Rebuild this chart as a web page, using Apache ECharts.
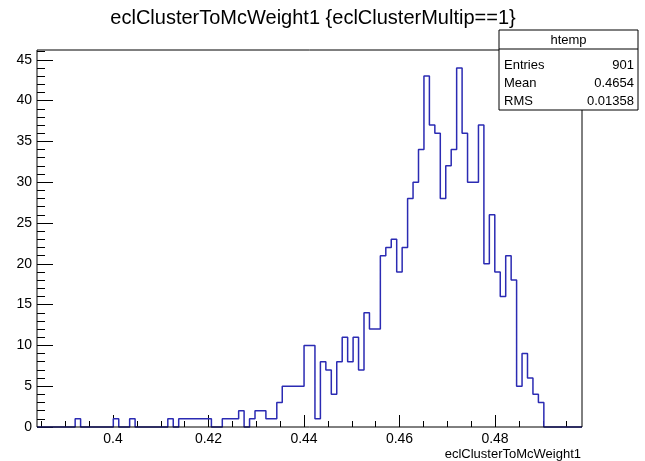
<!DOCTYPE html>
<html>
<head>
<meta charset="utf-8">
<script src="https://cdn.jsdelivr.net/npm/echarts@6/dist/echarts.min.js"></script>
<style>
  html, body { margin: 0; padding: 0; background: #ffffff; }
  #chart { width: 645px; height: 461px; }
</style>
</head>
<body>
<div id="chart"></div>
<script>
// Histogram binning of eclClusterToMcWeight1 (100 equal bins)
const binLow = 0.38408;
const binHigh = 0.49822;
const nBins = 100;

// Entries per bin, lowest bin first
const counts = [
  0, 0, 0, 0, 0, 0, 0, 1, 0, 0,
  0, 0, 0, 0, 1, 0, 0, 1, 0, 0,
  0, 0, 0, 0, 1, 0, 1, 1, 1, 1,
  1, 1, 0, 0, 1, 1, 1, 2, 0, 1,
  2, 2, 1, 1, 3, 5, 5, 5, 5, 10,
  10, 1, 8, 7, 4, 8, 11, 8, 11, 7,
  14, 12, 12, 21, 22, 23, 19, 22, 28, 30,
  34, 43, 37, 36, 28, 32, 34, 44, 36, 30,
  30, 37, 20, 26, 19, 16, 21, 18, 5, 9,
  6, 4, 3, 0, 0, 0, 0, 0, 0, 0
];

// Axis ticks
const xMajorTicks = [0.4, 0.42, 0.44, 0.46, 0.48];
const xMinorTicks = [0.385, 0.39, 0.395, 0.405, 0.41, 0.415, 0.425, 0.43, 0.435,
                     0.445, 0.45, 0.455, 0.465, 0.47, 0.475, 0.485, 0.49, 0.495];
const yMax = 46.2;
const yMajorTicks = [0, 5, 10, 15, 20, 25, 30, 35, 40, 45];
const yMinorTicks = [1, 2, 3, 4, 6, 7, 8, 9, 11, 12, 13, 14, 16, 17, 18, 19,
                     21, 22, 23, 24, 26, 27, 28, 29, 31, 32, 33, 34, 36, 37, 38, 39,
                     41, 42, 43, 44, 46];

// Texts
const titleText = 'eclClusterToMcWeight1 {eclClusterMultip==1}';
const xTitle = 'eclClusterToMcWeight1';
const statsName = 'htemp';
const statsRows = [['Entries', '901'], ['Mean', '0.4654'], ['RMS', '0.01358']];

// Step outline: one point at each bin's lower edge, plus the closing upper edge
const binWidth = (binHigh - binLow) / nBins;
const outline = counts.map((c, i) => [binLow + i * binWidth, c]);
outline.push([binHigh, counts[nBins - 1]]);

const FONT = '"Liberation Sans", Arial, Helvetica, sans-serif';
const GRID = { left: 37, right: 63, top: 50, bottom: 34 };

const chart = echarts.init(document.getElementById('chart'), null, { renderer: 'canvas' });

const baseX = {
  type: 'value', min: binLow, max: binHigh, gridIndex: 0,
  splitLine: { show: false }, axisLine: { show: false }
};
const baseY = {
  type: 'value', min: 0, max: yMax, gridIndex: 0,
  splitLine: { show: false }, axisLine: { show: false }
};

// Statistics box in the top-right corner
const statsTop = 30, statsLeft = 499, statsW = 139, statsH = 80, headerH = 19;
const statsGraphics = [
  { type: 'rect', z: 100, shape: { x: statsLeft, y: statsTop, width: statsW, height: statsH },
    style: { fill: '#ffffff', stroke: '#000000', lineWidth: 1 } },
  { type: 'line', z: 101, shape: { x1: statsLeft, y1: statsTop + headerH, x2: statsLeft + statsW, y2: statsTop + headerH },
    style: { stroke: '#000000', lineWidth: 1 } },
  { type: 'text', z: 101, x: statsLeft + statsW / 2, y: statsTop + headerH / 2 + 1,
    style: { text: statsName, font: '13px ' + FONT, fill: '#000', align: 'center', verticalAlign: 'middle' } }
];
statsRows.forEach((r, i) => {
  const cy = statsTop + headerH + 16 + i * 18;
  statsGraphics.push({ type: 'text', z: 101, x: statsLeft + 5, y: cy,
    style: { text: r[0], font: '13px ' + FONT, fill: '#000', align: 'left', verticalAlign: 'middle' } });
  statsGraphics.push({ type: 'text', z: 101, x: statsLeft + statsW - 4, y: cy,
    style: { text: r[1], font: '13px ' + FONT, fill: '#000', align: 'right', verticalAlign: 'middle' } });
});

chart.setOption({
  animation: false,
  backgroundColor: '#ffffff',
  grid: [{ ...GRID, show: true, borderColor: '#000000', borderWidth: 1, backgroundColor: 'transparent', z: 10 }],
  xAxis: [
    { ...baseX, position: 'bottom',
      axisTick: { show: true, inside: true, length: 12, customValues: xMajorTicks, lineStyle: { color: '#000', width: 1 } },
      axisLabel: { show: true, customValues: xMajorTicks, margin: 5, color: '#000', fontSize: 14, fontFamily: FONT,
                   formatter: v => String(+v.toFixed(3)) } },
    { ...baseX, position: 'bottom',
      axisTick: { show: true, inside: true, length: 6, customValues: xMinorTicks, lineStyle: { color: '#000', width: 1 } },
      axisLabel: { show: false } }
  ],
  yAxis: [
    { ...baseY, position: 'left',
      axisTick: { show: true, inside: true, length: 16, customValues: yMajorTicks, lineStyle: { color: '#000', width: 1 } },
      axisLabel: { show: true, customValues: yMajorTicks, margin: 5, color: '#000', fontSize: 14, fontFamily: FONT } },
    { ...baseY, position: 'left',
      axisTick: { show: true, inside: true, length: 8, customValues: yMinorTicks, lineStyle: { color: '#000', width: 1 } },
      axisLabel: { show: false } }
  ],
  series: [{
    type: 'line',
    xAxisIndex: 0, yAxisIndex: 0,
    data: outline,
    step: 'end',
    showSymbol: false,
    symbol: 'none',
    clip: false,
    z: 2,
    lineStyle: { color: '#2b2bb3', width: 1.5 }
  }],
  graphic: [
    { type: 'text', x: 313, y: 18,
      style: { text: titleText, font: '20px ' + FONT, fill: '#000', align: 'center', verticalAlign: 'middle' } },
    { type: 'text', x: 581, y: 454,
      style: { text: xTitle, font: '13px ' + FONT, fill: '#000', align: 'right', verticalAlign: 'middle' } },
    ...statsGraphics
  ]
});
</script>
</body>
</html>
